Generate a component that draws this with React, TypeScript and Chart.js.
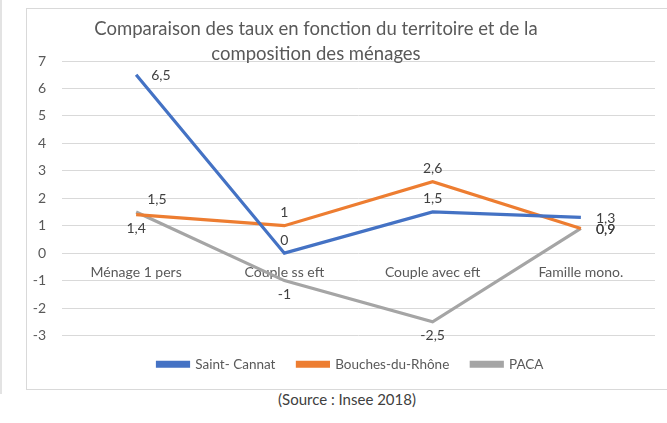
import React, { useEffect, useRef } from 'react';
import { Chart, registerables } from 'chart.js';

Chart.register(...registerables);

const TITLE_LINES = ['Comparaison des taux en fonction du territoire et de la', 'composition des ménages'];
const CATEGORIES = ['Ménage 1 pers', 'Couple ss eft', 'Couple avec eft', 'Famille mono.'];
const SERIES_NAMES = ['Saint- Cannat', 'Bouches-du-Rhône', 'PACA'];
const SAINT_CANNAT = [6.5, 0, 1.5, 1.3];
const BOUCHES_DU_RHONE = [1.4, 1, 2.6, 0.9];
const PACA = [1.5, -1, -2.5, 0.9];
const Y_MIN = -3;
const Y_MAX = 7;
const Y_STEP = 1;
const SOURCE_TEXT = '(Source : Insee 2018)';

const COLORS = ['#4472C4', '#ED7D31', '#A5A5A5'];
// label placement per series / point (style only)
const LABEL_POS = [
  ['right', 'above', 'above', 'right'],
  ['below', 'above', 'above', 'right'],
  ['aboveRight', 'below', 'below', 'right'],
];

const FONT = 'Lato';

const titlePlugin = {
  id: 'customTitle',
  afterDraw(chart: any) {
    const ctx = chart.ctx;
    ctx.save();
    ctx.font = `18.5px ${FONT}`;
    ctx.fillStyle = '#595959';
    ctx.textAlign = 'center';
    ctx.textBaseline = 'middle';
    TITLE_LINES.forEach((t, i) => ctx.fillText(t, 289, 20 + i * 25));
    ctx.restore();
  },
};

const valueLabelPlugin = {
  id: 'valueLabels',
  afterDatasetsDraw(chart: any) {
    const ctx = chart.ctx;
    ctx.save();
    ctx.font = `14px ${FONT}`;
    ctx.fillStyle = '#404040';
    ctx.textBaseline = 'middle';
    chart.data.datasets.forEach((ds: any, di: number) => {
      const meta = chart.getDatasetMeta(di);
      meta.data.forEach((pt: any, i: number) => {
        const v = ds.data[i];
        const txt = String(v).replace('.', ',');
        const pos = LABEL_POS[di][i];
        let x = pt.x;
        let y = pt.y;
        if (pos === 'right') {
          ctx.textAlign = 'left';
          x += 15;
          y += 1;
        } else if (pos === 'above') {
          ctx.textAlign = 'center';
          y -= 13;
        } else if (pos === 'below') {
          ctx.textAlign = 'center';
          y += 14;
        } else {
          ctx.textAlign = 'left';
          x += 11;
          y -= 12;
        }
        ctx.fillText(txt, x, y);
      });
    });
    ctx.restore();
  },
};

export default function App() {
  const ref = useRef<HTMLCanvasElement>(null);

  useEffect(() => {
    if (!ref.current) return;
    const seriesData = [SAINT_CANNAT, BOUCHES_DU_RHONE, PACA];
    const chart = new Chart(ref.current, {
      type: 'line',
      data: {
        labels: CATEGORIES,
        datasets: seriesData.map((d, i) => ({
          label: SERIES_NAMES[i],
          data: d,
          borderColor: COLORS[i],
          backgroundColor: COLORS[i],
          borderWidth: 3.2,
          pointRadius: 0,
          tension: 0,
          fill: false,
        })),
      },
      options: {
        responsive: false,
        animation: false,
        devicePixelRatio: 1,
        layout: { padding: { left: 4, right: 0, top: 52, bottom: 7 } },
        plugins: {
          title: { display: false },
          tooltip: { enabled: false },
          legend: {
            display: true,
            position: 'bottom',
            labels: {
              boxWidth: 31,
              boxHeight: 4,
              padding: 22,
              color: '#595959',
              font: { family: FONT, size: 13.5 },
            },
          },
        },
        scales: {
          x: {
            type: 'category',
            offset: true,
            position: { y: 0 } as any,
            grid: { display: false, drawTicks: false },
            border: { display: false },
            ticks: {
              color: '#595959',
              font: { family: FONT, size: 14 },
              padding: 11,
              maxRotation: 0,
              autoSkip: false,
            },
          },
          y: {
            position: 'left',
            min: Y_MIN,
            max: Y_MAX,
            afterFit: (scale: any) => {
              scale.width = 31;
            },
            grid: { color: '#D9D9D9', lineWidth: 1, drawTicks: false },
            border: { display: false },
            ticks: {
              stepSize: Y_STEP,
              color: '#595959',
              font: { family: FONT, size: 14 },
              padding: 16,
              callback: (v: any) => String(v),
            },
          },
          yRight: {
            type: 'linear',
            position: 'right',
            display: true,
            min: Y_MIN,
            max: Y_MAX,
            afterFit: (scale: any) => {
              scale.width = 15;
            },
            grid: { display: false, drawTicks: false },
            border: { display: false },
            ticks: { display: false },
          },
        },
      },
      plugins: [valueLabelPlugin, titlePlugin],
    });
    return () => chart.destroy();
  }, []);

  return (
    <div style={{ position: 'absolute', left: 0, top: 0, width: 667, height: 423, background: '#fff', overflow: 'hidden' }}>
      <div style={{ position: 'absolute', left: 0, top: 0, width: 2, height: 394, background: '#E3E3E3' }} />
      <div
        style={{
          position: 'absolute',
          left: 26,
          top: 8,
          width: 660,
          height: 380,
          borderLeft: '1px solid #D9D9D9',
          borderTop: '1px solid #D9D9D9',
          borderBottom: '1px solid #D9D9D9',
          boxSizing: 'content-box',
        }}
      >
        <canvas ref={ref} width={643} height={379} style={{ display: 'block' }} />
      </div>
      <div
        style={{
          position: 'absolute',
          left: 247,
          width: 200,
          top: 390,
          textAlign: 'center',
          fontFamily: FONT,
          fontSize: 15,
          fontWeight: 400,
          color: '#404040',
          lineHeight: '18px',
        }}
      >
        {SOURCE_TEXT}
      </div>
    </div>
  );
}
